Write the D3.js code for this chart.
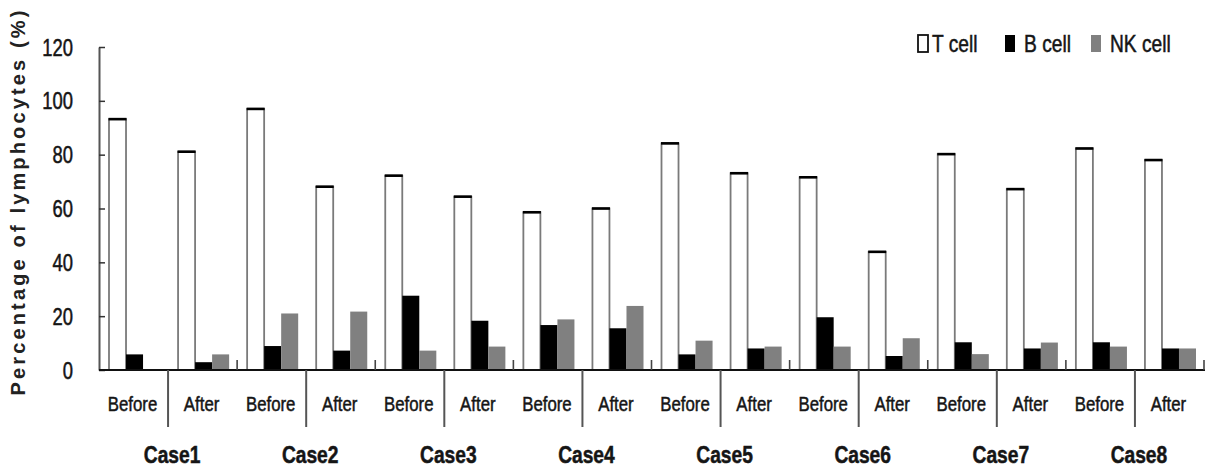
<!DOCTYPE html>
<html>
<head>
<meta charset="utf-8">
<script src="https://cdn.jsdelivr.net/npm/d3@7"></script>
<style>
  body { margin: 0; background: #fff; }
  svg { display: block; }
</style>
</head>
<body>
<div id="chart"></div>
<script>
// values
var cases = ['Case1', 'Case2', 'Case3', 'Case4', 'Case5', 'Case6', 'Case7', 'Case8'];
var phases = ['Before', 'After'];
var seriesNames = ['T cell', 'B cell', 'NK cell'];
var tCell  = [93.2, 81.1, 97.0, 68.1, 72.2, 64.4, 58.6, 60.0, 84.2, 73.1, 71.6, 43.9, 80.2, 67.2, 82.3, 78.0];
var bCell  = [5.8, 2.9, 8.9, 7.2, 27.6, 18.3, 16.7, 15.5, 5.8, 8.0, 19.6, 5.2, 10.3, 8.0, 10.3, 8.0];
var nkCell = [0.0, 5.8, 21.0, 21.7, 7.2, 8.7, 18.8, 23.8, 10.9, 8.7, 8.7, 11.8, 5.9, 10.2, 8.7, 8.0];
var yTicks = [0, 20, 40, 60, 80, 100, 120];

var width = 1208, height = 470;
var plotLeft = 99, plotRight = 1204, plotTop = 47, base = 370;
var font = "'Liberation Sans', Arial, sans-serif";
var squeeze = 0.8; // the original type is a narrow face

// one slot per case/phase
var slots = [];
cases.forEach(function(c) { phases.forEach(function(p) { slots.push(c + '|' + p); }); });

var rows = slots.map(function(s, i) {
  return { slot: s, phase: s.split('|')[1], values: [tCell[i], bCell[i], nkCell[i]] };
});

var x = d3.scaleBand().domain(slots).range([plotLeft, plotRight]);
var xInner = d3.scaleBand().domain(seriesNames).range([10, x.bandwidth() - 8]);
var y = d3.scaleLinear().domain([0, 120]).range([base, plotTop]);
var fills = { 'T cell': '#ffffff', 'B cell': '#000000', 'NK cell': '#808080' };

var svg = d3.select('#chart').append('svg')
  .attr('width', width)
  .attr('height', height);

// narrow, slightly heavy text: place at (px,py) and squeeze horizontally
function narrowText(sel, px, py) {
  return sel.attr('transform', function(d, i) {
      return 'translate(' + px(d, i) + ',' + py(d, i) + ') scale(' + squeeze + ',1)';
    })
    .attr('font-family', font)
    .attr('fill', '#151515')
    .attr('stroke', '#151515')
    .attr('stroke-width', 0.5);
}

// bars
var groups = svg.append('g').selectAll('g')
  .data(rows)
  .enter().append('g')
    .attr('transform', function(d) { return 'translate(' + x(d.slot) + ',0)'; });

groups.selectAll('rect')
  .data(function(d) { return d.values.map(function(v, k) { return { name: seriesNames[k], v: v }; }); })
  .enter().append('rect')
    .attr('x', function(d) { return xInner(d.name); })
    .attr('y', function(d) { return y(d.v); })
    .attr('width', xInner.bandwidth())
    .attr('height', function(d) { return base - y(d.v); })
    .attr('fill', function(d) { return fills[d.name]; })
    .attr('stroke', function(d) { return d.name == 'T cell' ? '#7a7a7a' : 'none'; })
    .attr('stroke-width', 1.8);

// dark top edge of the open bars
groups.append('line')
  .attr('x1', function(d) { return xInner('T cell') - 0.5; })
  .attr('x2', function(d) { return xInner('T cell') + xInner.bandwidth() + 0.5; })
  .attr('y1', function(d) { return y(d.values[0]); })
  .attr('y2', function(d) { return y(d.values[0]); })
  .attr('stroke', '#000')
  .attr('stroke-width', 2.6);

// y axis, ticks pointing inward
var yAxis = svg.append('g')
  .attr('transform', 'translate(' + plotLeft + ',0)')
  .call(d3.axisLeft(y).tickValues(yTicks).tickSize(-6).tickSizeOuter(0).tickFormat(function() { return ''; }));
yAxis.select('.domain').attr('stroke', '#555').attr('stroke-width', 2);
yAxis.selectAll('.tick line').attr('stroke', '#333').attr('stroke-width', 1.5);

svg.append('g').selectAll('text')
  .data(yTicks)
  .enter().append('text')
    .call(narrowText, function() { return plotLeft - 26; }, function(d) { return y(d) + 8.5; })
    .attr('text-anchor', 'end')
    .attr('font-size', 23)
    .text(function(d) { return d; });

// x axis line
svg.append('line')
  .attr('x1', plotLeft).attr('x2', plotRight + 1)
  .attr('y1', base).attr('y2', base)
  .attr('stroke', '#111').attr('stroke-width', 2.2);

// small upward ticks between cases
var caseEdges = cases.slice(1).map(function(c) { return x(c + '|Before'); }).concat([plotRight]);
svg.append('g').selectAll('line')
  .data(caseEdges)
  .enter().append('line')
    .attr('x1', function(d) { return d; }).attr('x2', function(d) { return d; })
    .attr('y1', base).attr('y2', base - 10)
    .attr('stroke', '#444').attr('stroke-width', 1.6);

// long dividers between Before and After
svg.append('g').selectAll('line')
  .data(cases)
  .enter().append('line')
    .attr('x1', function(d) { return x(d + '|After'); })
    .attr('x2', function(d) { return x(d + '|After'); })
    .attr('y1', base).attr('y2', 427)
    .attr('stroke', '#555').attr('stroke-width', 2);

// phase labels
svg.append('g').selectAll('text')
  .data(rows)
  .enter().append('text')
    .call(narrowText, function(d) { return x(d.slot) + x.bandwidth() / 2 - 1; }, function() { return 411; })
    .attr('text-anchor', 'middle')
    .attr('font-size', 21)
    .text(function(d) { return d.phase; });

// case labels
svg.append('g').selectAll('text')
  .data(cases)
  .enter().append('text')
    .call(narrowText, function(d) { return x(d + '|After') + 4; }, function() { return 463; })
    .attr('text-anchor', 'middle')
    .attr('font-weight', 'bold')
    .attr('font-size', 24)
    .text(function(d) { return d; });

// y title
svg.append('text')
  .attr('transform', 'translate(25,203) rotate(-90)')
  .attr('text-anchor', 'middle')
  .attr('font-family', font)
  .attr('font-weight', 'bold')
  .attr('font-size', 20)
  .attr('textLength', 385)
  .attr('lengthAdjust', 'spacing')
  .attr('fill', '#222')
  .text('Percentage of lymphocytes (%)');

// legend
var legendX = [918, 1005, 1091];
var legend = svg.append('g').selectAll('g')
  .data(seriesNames)
  .enter().append('g')
    .attr('transform', function(d, i) { return 'translate(' + legendX[i] + ',35)'; });
legend.append('rect')
  .attr('width', 10).attr('height', 17)
  .attr('fill', function(d) { return fills[d]; })
  .attr('stroke', function(d) { return d == 'T cell' ? '#111' : 'none'; })
  .attr('stroke-width', 1.8);
legend.append('text')
  .call(narrowText, function(d, i) { return i == 0 ? 14 : 19; }, function() { return 17; })
  .attr('font-size', 24)
  .text(function(d) { return d; });
</script>
</body>
</html>
